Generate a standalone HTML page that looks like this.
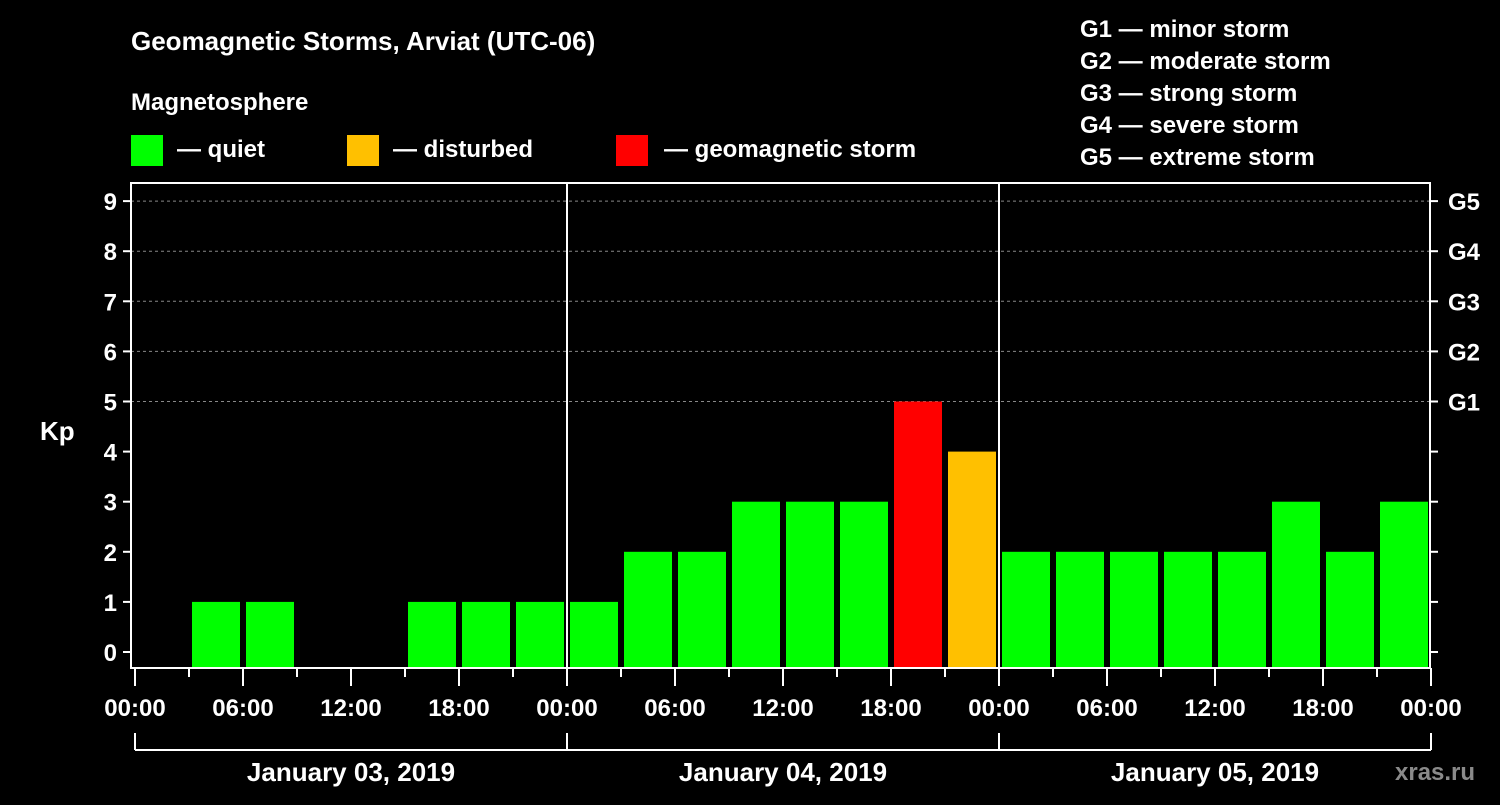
<!DOCTYPE html>
<html><head><meta charset="utf-8"><style>
body{margin:0;background:#000;width:1500px;height:800px;overflow:hidden}
svg text{font-family:"Liberation Sans",sans-serif;font-weight:bold;fill:#fff}
</style></head><body>
<svg id="c" width="1500" height="800">
<text x="131" y="50" font-size="26">Geomagnetic Storms, Arviat (UTC-06)</text>
<text x="131" y="110" font-size="24">Magnetosphere</text>
<rect x="131" y="135" width="32" height="31" fill="#00ff00"/>
<text x="177" y="157" font-size="24">— quiet</text>
<rect x="347" y="135" width="32" height="31" fill="#ffc000"/>
<text x="393" y="157" font-size="24">— disturbed</text>
<rect x="616" y="135" width="32" height="31" fill="#ff0000"/>
<text x="664" y="157" font-size="24">— geomagnetic storm</text>
<g font-size="24">
<text x="1080" y="37">G1 — minor storm</text>
<text x="1080" y="69">G2 — moderate storm</text>
<text x="1080" y="101">G3 — strong storm</text>
<text x="1080" y="133">G4 — severe storm</text>
<text x="1080" y="165">G5 — extreme storm</text>
</g>
<text x="40" y="440" font-size="26">Kp</text>
<text x="1395" y="780" font-size="24" fill="#888" style="fill:#8a8a8a">xras.ru</text>
<g id="plot"></g>
</svg>
<script>
const days = ["January 03, 2019","January 04, 2019","January 05, 2019"];
const kpValues = [0,1,1,0,0,1,1,1, 1,2,2,3,3,3,5,4, 2,2,2,2,2,3,2,3];
const yTicks = [0,1,2,3,4,5,6,7,8,9];
const gLabels = ["G1","G2","G3","G4","G5"];
const hourLabels = ["00:00","06:00","12:00","18:00"];

const NS="http://www.w3.org/2000/svg";
const g=document.getElementById('plot');
const X0=135, DAYW=432, L=131, R=1430, TOP=183, BOT=668;
const xAt=h=>X0+h*DAYW/24;
const yAt=v=>652-v*50.1;
function el(t,a,p){const e=document.createElementNS(NS,t);for(const k in a)e.setAttribute(k,a[k]);(p||g).appendChild(e);return e;}

// grid
yTicks.forEach(v=>{
  if(v>=5){
    const l=el('line',{x1:L,x2:R,y1:yAt(v),y2:yAt(v),stroke:'#888','stroke-dasharray':'3,3','stroke-width':1});
    
    
  }
  const t=el('line',{x1:L-8,x2:L,y1:yAt(v),y2:yAt(v),stroke:'#fff','stroke-width':2});
  
  
  const lb=el('text',{x:L-14,y:yAt(v)+9,'font-size':24,'text-anchor':'end'});
  lb.textContent=v;
  
  
  const rt=el('line',{x1:R,x2:R+8,y1:yAt(v),y2:yAt(v),stroke:'#fff','stroke-width':2});
  
  
});
gLabels.forEach((s,i)=>{
  const t=el('text',{x:R+18,y:yAt(5+i)+9,'font-size':24});
  t.textContent=s;
  
  
});
// bars
kpValues.forEach((v,i)=>{
  if(v<=0)return;
  const x=xAt(i*3)+3, w=DAYW/8-6;
  const col=v>=5?'#ff0000':(v>=4?'#ffc000':'#00ff00');
  const b=el('rect',{x:x,y:yAt(v),width:w,height:BOT-yAt(v),fill:col});
  
  
});
// frame
const fr=el('rect',{x:L,y:TOP,width:R-L,height:BOT-TOP,fill:'none',stroke:'#fff','stroke-width':2});


// day separators, x ticks
for(let d=0;d<=days.length;d++){
  const x=xAt(d*24);
  if(d>0&&d<days.length){
    const s=el('line',{x1:x,x2:x,y1:TOP,y2:BOT,stroke:'#fff','stroke-width':2});
    
    
  }
  const bt=el('line',{x1:x,x2:x,y1:733,y2:750,stroke:'#fff','stroke-width':2});
  
  
}
const br=el('line',{x1:xAt(0),x2:xAt(72),y1:750,y2:750,stroke:'#fff','stroke-width':2});


for(let h=0;h<=72;h+=3){
  const x=xAt(h);
  const t=el('line',{x1:x,x2:x,y1:BOT,y2:h%6===0?686:677,stroke:'#fff','stroke-width':2});
  
  
  if(h%6===0){
    const lb=el('text',{x:x,y:716,'font-size':24,'text-anchor':'middle'});
    lb.textContent=hourLabels[(h%24)/6];
    
    
  }
}
days.forEach((d,i)=>{
  const t=el('text',{x:xAt(i*24+12),y:781,'font-size':26,'text-anchor':'middle'});
  t.textContent=d;
  
  
});
</script>
</body></html>
